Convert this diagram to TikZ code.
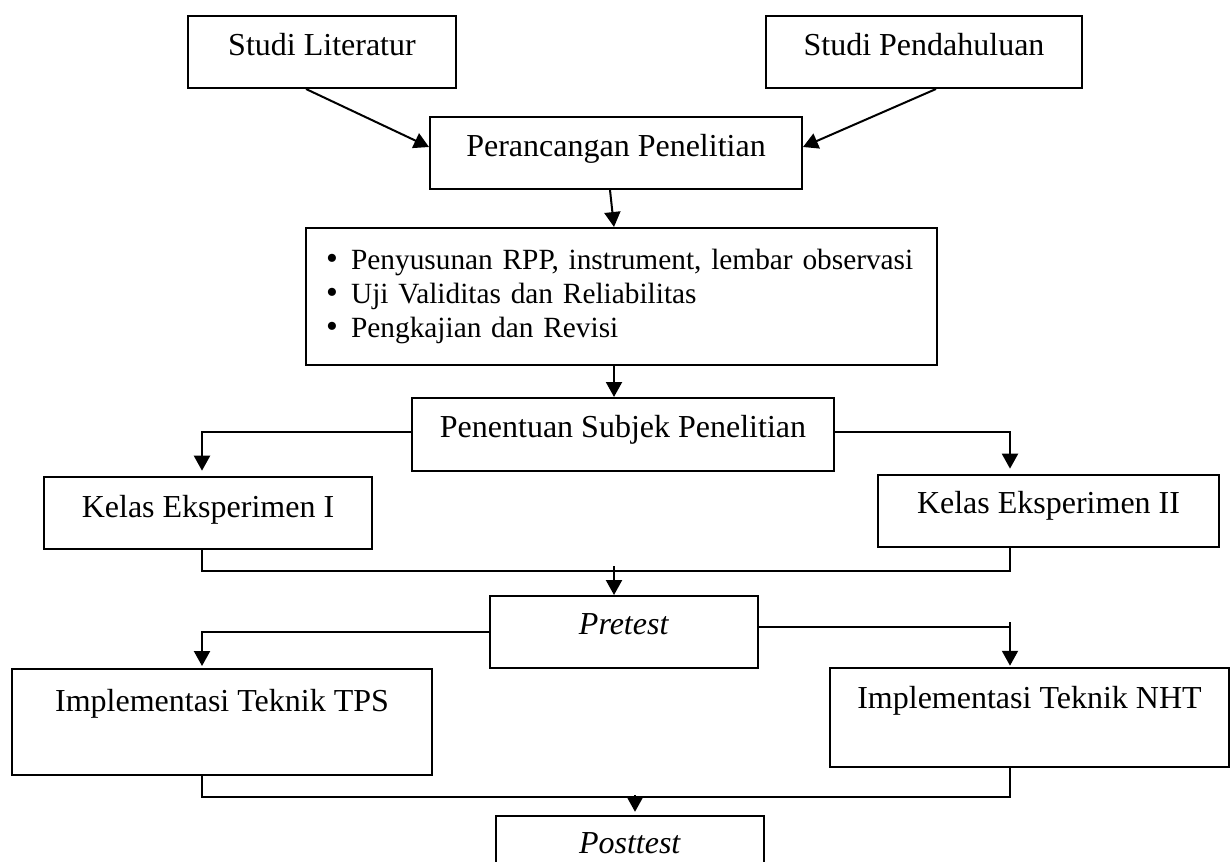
\documentclass[tikz,border=0pt]{standalone}
\usepackage{fontspec}
\setmainfont{Liberation Serif}
\usepackage{tikz}
\usetikzlibrary{arrows.meta, calc}

\newcommand{\butir}{\makebox[9.4pt][l]{\scalebox{1.15}{\textbullet}}}

\tikzset{
	kotak/.style={draw, line width=0.75pt, inner sep=0pt},
	panah/.style={-{Triangle[length=5.6pt, width=6pt]}, line width=0.75pt},
	garis/.style={line width=0.75pt}
}

\begin{document}
\begin{tikzpicture}[x=0.375pt, y=-0.375pt, every node/.style={font=\fontsize{12pt}{12.75pt}\selectfont}]
				\clip (0, 0) rectangle (1231, 862);
				
				%Level 1
				\node[kotak, minimum width=100.5pt, text height=15pt, text depth=12pt] (studilit) at (322, 52) {Studi Literatur};
				\node[kotak, minimum width=118.5pt, text height=15pt, text depth=12pt] (studipend) at (924, 52) {Studi Pendahuluan};
				\node[kotak, minimum width=139.5pt, text height=15pt, text depth=12pt] (rancang) at (616, 153) {Perancangan Penelitian};
				
				%Level 2
				\node[kotak, minimum height=51.4pt, text width=221.6pt, inner xsep=7.5pt, align=left, font=\fontsize{11pt}{12.75pt}\selectfont] (bullet) at (621.5, 296.5) {\butir Penyusunan RPP, instrument, lembar observasi\\ \butir Uji Validitas dan Reliabilitas\\ \butir Pengkajian dan Revisi};
				\node[kotak, minimum width=158.25pt, text height=15pt, text depth=12.4pt] (penentuan) at (623, 434.5) {Penentuan Subjek Penelitian};
				
				%Level 3
				\node[kotak, minimum width=123pt, text height=15pt, text depth=12pt] (kelas1) at (208, 513) {Kelas Eksperimen I};
				\node[kotak, minimum width=127.9pt, text height=14.6pt, text depth=12.4pt] (kelas2) at (1048.5, 511) {Kelas Eksperimen II};
				\node[kotak, minimum width=100.5pt, text height=14.25pt, text depth=12.75pt] (pretest) at (624, 632) {\textit{Pretest}};
				
				%Level 4
				\node[kotak, minimum width=157.5pt, text height=15.75pt, text depth=24pt] (tps) at (222, 722) {Implementasi Teknik TPS};
				\node[kotak, minimum width=149.6pt, text height=15pt, text depth=22.1pt] (nht) at (1029.5, 717.5) {Implementasi Teknik NHT};
				\node[kotak, minimum width=100.5pt, text height=13.9pt, text depth=13.1pt] (posttest) at (630, 852) {\textit{Posttest}};
				
				%Lines
				\coordinate (kiri) at (202, 0);
				\coordinate (tengah) at (614, 0);
				\coordinate (kanan) at (1010, 0);
				\coordinate (gabung1) at (614, 571);
				\coordinate (gabung2) at (635, 797);
				\coordinate (sudut) at ($(pretest.east -| kanan)+(0, -5)$);
				
				\draw[panah] ($(studilit.south)+(-16, 0)$) -- ($(rancang.west)+(0, -6)$);
				\draw[panah] ($(studipend.south)+(12, 0)$) -- ($(rancang.east)+(0, -6)$);
				\draw[panah] ($(rancang.south)+(-6, 0)$) -- (tengah |- bullet.north);
				\draw[panah] (tengah |- bullet.south) -- (tengah |- penentuan.north);
				\draw[panah, shorten >=2pt] ($(penentuan.west)+(0, -3)$) -| (kiri |- kelas1.north);
				\draw[panah, shorten >=2pt] ($(penentuan.east)+(0, -3)$) -| (kanan |- kelas2.north);
				
				\draw[garis] (kiri |- kelas1.south) |- (gabung1);
				\draw[garis] (kanan |- kelas2.south) |- (gabung1);
				\draw[panah] ($(gabung1)+(0, -5)$) -- (tengah |- pretest.north);
				
				\draw[panah, shorten >=0.75pt] (pretest.west) -| (kiri |- tps.north);
				\draw[garis] ($(pretest.east)+(0, -5)$) -- (sudut);
				\draw[panah, shorten >=0.5pt] ($(sudut)+(0, -5)$) -- (kanan |- nht.north);
				
				\draw[garis] (kiri |- tps.south) |- (gabung2);
				\draw[garis] (kanan |- nht.south) |- (gabung2);
				\draw[panah, shorten >=1.2pt] ($(gabung2)+(0, -2)$) -- (gabung2 |- posttest.north);
			\end{tikzpicture}
\end{document}
